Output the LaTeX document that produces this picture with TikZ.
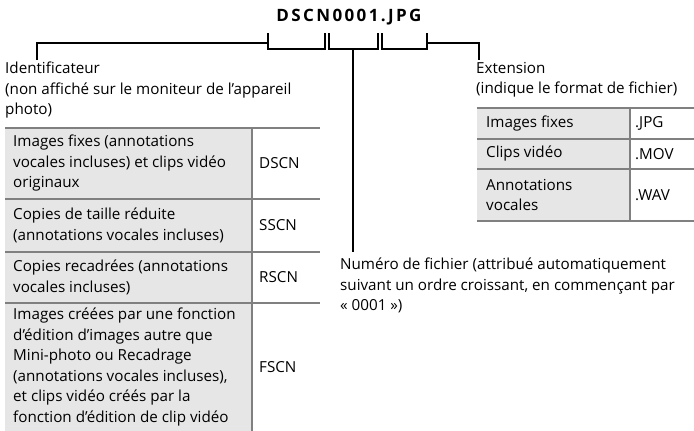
\documentclass[tikz,border=0pt]{standalone}
\usepackage{fontspec}
\setmainfont{Open Sans}
\definecolor{cellgray}{HTML}{E6E6E6}
\definecolor{rulegray}{HTML}{808080}
\tikzset{
  lbl/.style={anchor=north west, align=left, inner sep=0pt},
  cell/.style={anchor=west, align=left, inner sep=0pt},
  fname/.style={inner sep=0pt, font=\fontsize{17}{20}\selectfont\bfseries\addfontfeatures{LetterSpace=14}},
  rulez/.style={rulegray, line width=2.4pt},
  brk/.style={black, line width=2pt}
}
\begin{document}
\begin{tikzpicture}[x=1pt, y=-1pt, font=\fontsize{15.2}{20.5}\selectfont]
  \useasboundingbox (0,0) rectangle (694,431);
  % file name and its brackets
  \node[fname] (file) at (349,17) {DSCN0001.JPG};
  \draw[brk] (268,33) |- (325,49) -- (325,33);
  \draw[brk] (329,33) |- (378,49) -- (378,33);
  \draw[brk] (382,33) |- (427,49) -- (427,33);
  \coordinate (identtop) at (37,60);
  \coordinate (exttop) at (479,60);
  \coordinate (numtop) at (353,252);
  \draw[brk] (268,43) -| (identtop);
  \draw[brk] (427,43) -| (exttop);
  \draw[brk] (353,49) -- (numtop);
  % labels
  \node[lbl] (ident) at (5,62) {Identificateur\\(non affiché sur le moniteur de l'appareil\\photo)};
  \node[lbl] (extlbl) at (476,62) {Extension\\(indique le format de fichier)};
  \node[lbl] (numlbl) at (340,258) {Numéro de fichier (attribué automatiquement\\suivant un ordre croissant, en commençant par\\« 0001 »)};
  % identifier table
  \fill[cellgray] (5,128) rectangle (252,431);
  \foreach \y in {128,199,252,303} \draw[rulez] (5,\y) -- (320,\y);
  \draw[rulez] (252,128) -- (252,431);
  \node[cell] (still) at (13,163.5) {Images fixes (annotations\\vocales incluses) et clips vidéo\\originaux};
  \node[cell] (small) at (13,225.5) {Copies de taille réduite\\(annotations vocales incluses)};
  \node[cell] (crop) at (13,277.5) {Copies recadrées (annotations\\vocales incluses)};
  \node[cell] (edit) at (13,367) {Images créées par une fonction\\d'édition d'images autre que\\Mini-photo ou Recadrage\\(annotations vocales incluses),\\et clips vidéo créés par la\\fonction d'édition de clip vidéo};
  \node[cell] (dscn) at (259,163.5) {DSCN};
  \node[cell] (sscn) at (259,225.5) {SSCN};
  \node[cell] (rscn) at (259,277.5) {RSCN};
  \node[cell] (fscn) at (259,367) {FSCN};
  % extension table
  \fill[cellgray] (477,108) rectangle (630,221);
  \foreach \y in {108,139,169,221} \draw[rulez] (477,\y) -- (694,\y);
  \draw[rulez] (630,108) -- (630,221);
  \node[cell] (jpgtxt) at (486,123.5) {Images fixes};
  \node[cell] (movtxt) at (486,154) {Clips vidéo};
  \node[cell] (wavtxt) at (486,195) {Annotations\\vocales};
  \node[cell] (jpg) at (635,123.5) {.JPG};
  \node[cell] (mov) at (635,154) {.MOV};
  \node[cell] (wav) at (635,195) {.WAV};
\end{tikzpicture}
\end{document}
